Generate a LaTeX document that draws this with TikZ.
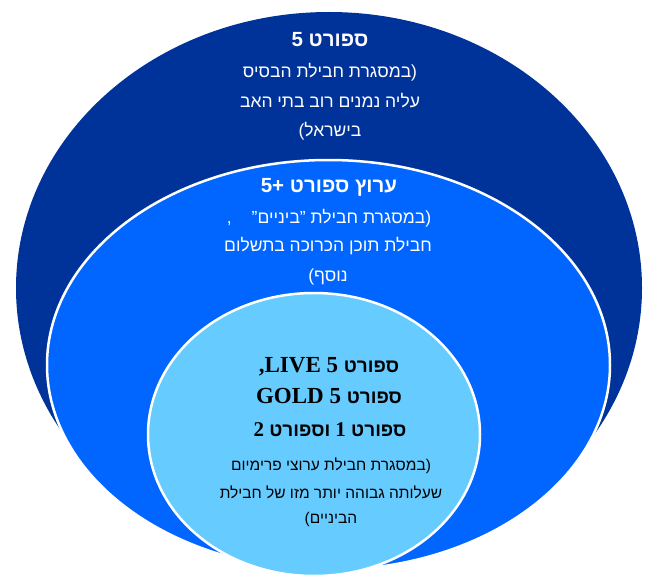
\documentclass[tikz,border=0pt]{standalone}
\usepackage{fontspec}
\setmainfont{Liberation Serif}
\newfontfamily\heb[Script=Hebrew]{Liberation Sans}
\TeXXeTstate=1
\usetikzlibrary{shapes.geometric}
\definecolor{outerblue}{HTML}{003399}
\definecolor{midblue}{HTML}{0066FF}
\definecolor{lightblue}{HTML}{66CCFF}
\newcommand{\hebttl}{\heb\fontsize{19}{22}\selectfont}
\tikzset{
  ring/.style={ellipse, inner sep=0pt, outer sep=0pt},
  wtitle/.style={anchor=base, text=white, font=\heb\bfseries\fontsize{20.5}{24}\selectfont, inner sep=0pt},
  wbody/.style={anchor=base, text=white, font=\heb\fontsize{17.5}{21}\selectfont, inner sep=0pt},
  ktitle/.style={anchor=base, text=black, font=\bfseries\fontsize{23}{26}\selectfont, inner sep=0pt},
  kbody/.style={anchor=base, text=black, font=\heb\fontsize{15.5}{18}\selectfont, inner sep=0pt}
}
\begin{document}
\begin{tikzpicture}[x=1pt,y=-1pt]
\useasboundingbox (0,0) rectangle (661,583);
\node[ring, fill=outerblue, minimum width=626pt, minimum height=552pt] (outer) at (329,288) {};
\node[ring, fill=midblue, draw=white, line width=2.5pt, minimum width=563pt, minimum height=410pt] (middle) at (328.5,365) {};
\node[ring, fill=lightblue, draw=white, line width=2.5pt, minimum width=332pt, minimum height=283pt] (inner) at (314,434.5) {};
% outer text
\node[wtitle] (o1) at (330,47) {\beginR ספורט 5\endR};
\node[wbody] (o2) at (330,78) {\beginR (במסגרת חבילת הבסיס\endR};
\node[wbody] (o3) at (330,108) {\beginR עליה נמנים רוב בתי האב\endR};
\node[wbody] (o4) at (330,136) {\beginR בישראל)\endR};
% middle text
\node[wtitle] (m1) at (329,192) {\beginR ערוץ ספורט \beginL+5\endL\endR};
\node[wbody] (m2) at (329,223) {\beginR (במסגרת חבילת ”ביניים”\kern20pt,\endR};
\node[wbody] (m3) at (328,251) {\beginR חבילת תוכן הכרוכה בתשלום\endR};
\node[wbody] (m4) at (328,281) {\beginR נוסף)\endR};
% inner text
\node[ktitle] (i1) at (329,372) {,LIVE 5 {\hebttl\bfseries ספורט}};
\node[ktitle] (i2) at (329,403) {GOLD 5 {\hebttl\bfseries ספורט}};
\node[ktitle] (i3) at (330,436) {\fontsize{21}{24}\selectfont\beginR{\hebttl\bfseries ספורט} 1 {\hebttl\bfseries וספורט} 2\endR};
\node[kbody] (i4) at (331,470) {\beginR (במסגרת חבילת ערוצי פרימיום\endR};
\node[kbody] (i5) at (331,498) {\beginR שעלותה גבוהה יותר מזו של חבילת\endR};
\node[kbody] (i6) at (331,523) {\beginR הביניים)\endR};
\end{tikzpicture}
\end{document}
